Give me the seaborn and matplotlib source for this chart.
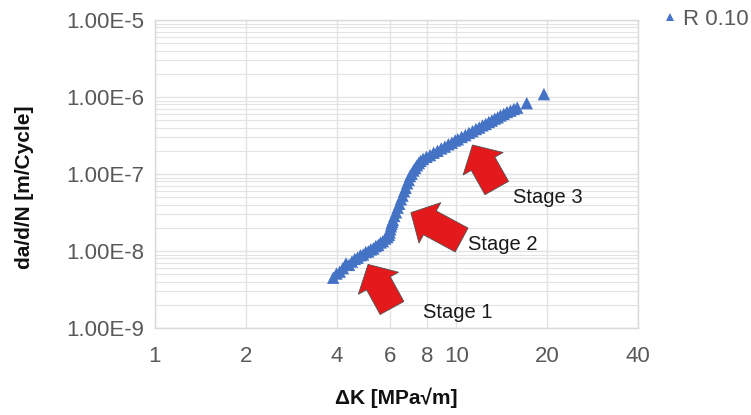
import matplotlib
matplotlib.use('Agg')
import matplotlib.pyplot as plt
import seaborn as sns
import numpy as np
import pandas as pd
from matplotlib.ticker import FixedLocator, FuncFormatter, LogLocator, NullFormatter

# ── Data (da/dN vs Delta K, R = 0.10) ─────────────────────────────────
delta_k = [3.90, 4.00, 4.10, 4.20, 4.30, 4.40, 4.50, 4.60, 4.70, 4.80,
           4.90, 5.00, 5.10, 5.20, 5.30, 5.40, 5.50, 5.60, 5.70, 5.80,
           5.90, 5.97, 6.00, 6.03, 6.06, 6.09, 6.12, 6.15, 6.22, 6.30,
           6.38, 6.46, 6.54, 6.62, 6.70, 6.78, 6.86, 6.94, 7.01, 7.10,
           7.20, 7.30, 7.40, 7.50, 7.60, 7.75, 7.95, 8.17, 8.40, 8.65,
           8.90, 9.15, 9.40, 9.65, 9.90, 10.1, 10.4, 10.7, 11.0, 11.3,
           11.6, 11.9, 12.2, 12.5, 12.8, 13.1, 13.4, 13.7, 14.0, 14.35,
           14.7, 15.1, 15.5, 15.9, 17.1, 19.5]
da_dn = [4.50e-9, 5.10e-9, 5.40e-9, 6.00e-9, 6.90e-9, 6.60e-9, 7.30e-9, 7.90e-9, 8.20e-9, 8.80e-9,
         9.00e-9, 9.70e-9, 9.90e-9, 1.05e-8, 1.08e-8, 1.16e-8, 1.20e-8, 1.29e-8, 1.34e-8, 1.45e-8,
         1.52e-8, 1.62e-8, 1.74e-8, 1.91e-8, 2.09e-8, 2.24e-8, 2.40e-8, 2.53e-8, 2.85e-8, 3.18e-8,
         3.66e-8, 4.10e-8, 4.70e-8, 5.24e-8, 5.98e-8, 6.62e-8, 7.58e-8, 8.40e-8, 9.40e-8, 1.01e-7,
         1.11e-7, 1.20e-7, 1.30e-7, 1.39e-7, 1.48e-7, 1.57e-7, 1.67e-7, 1.76e-7, 1.89e-7, 2.00e-7,
         2.15e-7, 2.27e-7, 2.43e-7, 2.55e-7, 2.73e-7, 2.83e-7, 3.03e-7, 3.20e-7, 3.42e-7, 3.60e-7,
         3.84e-7, 4.02e-7, 4.28e-7, 4.47e-7, 4.74e-7, 4.95e-7, 5.24e-7, 5.44e-7, 5.76e-7, 6.02e-7,
         6.38e-7, 6.65e-7, 7.00e-7, 7.28e-7, 8.32e-7, 1.09e-6]
series_label = "R 0.10"

x_ticks = [1, 2, 4, 6, 8, 10, 20, 40]
y_decades = [1e-9, 1e-8, 1e-7, 1e-6, 1e-5]

# annotation arrows: (label, arrow tip, arrow tail, text anchor) in data units
stages = [
    ("Stage 1", (5.09, 6.70e-9), (6.11, 1.82e-9), (7.74, 1.57e-9)),
    ("Stage 2", (7.06, 3.15e-8), (10.4, 1.39e-8), (10.9, 1.20e-8)),
    ("Stage 3", (11.3, 2.38e-7), (13.6, 6.58e-8), (15.4, 4.88e-8)),
]

blue = '#4472C4'
red = '#E3191B'
grid_c = '#E3E3E3'
tick_c = '#595959'

sns.set_style("white")
plt.rcParams['font.family'] = ['Liberation Sans', 'DejaVu Sans']

df = pd.DataFrame({"dK": delta_k, "dadN": da_dn, "series": series_label})

fig = plt.figure(figsize=(7.51, 4.15), dpi=100)
ax = fig.add_axes([155 / 751, 87 / 415, 483 / 751, 308 / 415])

sns.scatterplot(data=df, x="dK", y="dadN", hue="series", palette=[blue],
                marker='^', s=80, linewidth=0, ax=ax, zorder=3)

ax.set_xscale('log')
ax.set_yscale('log')
ax.set_xlim(1, 40)
ax.set_ylim(1e-9, 1e-5)

# x axis: only the labelled values, with gridlines
ax.xaxis.set_major_locator(FixedLocator(x_ticks))
ax.xaxis.set_minor_locator(FixedLocator([]))
ax.xaxis.set_major_formatter(FuncFormatter(lambda v, p: f"{v:g}"))
ax.xaxis.set_minor_formatter(NullFormatter())

# y axis: decades labelled like Excel, minor gridlines in between
ax.yaxis.set_major_locator(FixedLocator(y_decades))
ax.yaxis.set_minor_locator(LogLocator(base=10, subs=np.arange(2, 10)))
ax.yaxis.set_major_formatter(FuncFormatter(
    lambda v, p: f"1.00E{int(round(np.log10(v)))}"))
ax.yaxis.set_minor_formatter(NullFormatter())

ax.grid(True, which='major', color=grid_c, lw=1.0, zorder=0)
ax.grid(True, which='minor', axis='y', color=grid_c, lw=0.8, zorder=0)
ax.set_axisbelow(True)
for s in ax.spines.values():
    s.set_color('#D9D9D9')
    s.set_linewidth(1.0)

ax.tick_params(axis='both', which='both', length=0, labelsize=16,
               labelcolor=tick_c)
ax.tick_params(axis='x', pad=13)
ax.tick_params(axis='y', pad=8)

ax.set_xlabel("ΔK [MPa√m]", fontsize=15, fontweight='bold', color='#111111')
ax.set_ylabel("da/d/N [m/Cycle]", fontsize=15, fontweight='bold', color='#111111')
ax.xaxis.set_label_coords(0.5, -(398 - 328) / 308)
ax.yaxis.set_label_coords(-130 / 483, (328 - 187) / 308)
ax.xaxis.label.set_va('center')
ax.yaxis.label.set_va('center')

# stage arrows
for label, tip, tail, txt in stages:
    ax.annotate('', xy=tip, xytext=tail,
                arrowprops=dict(arrowstyle='simple,head_length=1.55,head_width=3.3,tail_width=1.95',
                                mutation_scale=10, fc=red, ec='#505050', lw=0.6,
                                shrinkA=0, shrinkB=0),
                zorder=4)
    ax.text(txt[0], txt[1], label, fontsize=14.5, color='#1a1a1a',
            ha='left', va='center', zorder=5)

ax.legend(loc='upper left', bbox_to_anchor=(1.02, 1.065), frameon=False,
          fontsize=16, handletextpad=0.0, handlelength=1.2, markerscale=0.6,
          borderaxespad=0, labelcolor=tick_c)

fig.savefig("out.png", dpi=100)
